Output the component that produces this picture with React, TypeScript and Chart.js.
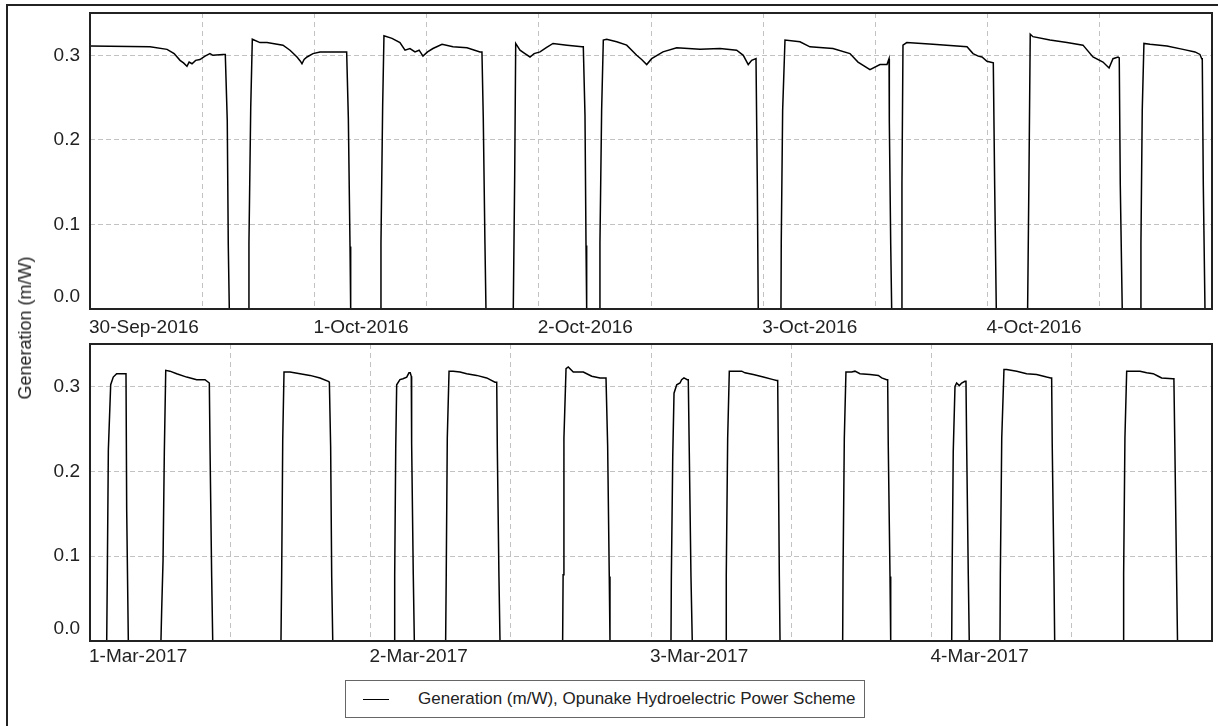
import React, { useEffect, useRef } from 'react';
import { Chart, registerables } from 'chart.js';

Chart.register(...registerables);

// ---- Text / tick labels ----
const topDayLabels = ['30-Sep-2016', '1-Oct-2016', '2-Oct-2016', '3-Oct-2016', '4-Oct-2016'];
const bottomDayLabels = ['1-Mar-2017', '2-Mar-2017', '3-Mar-2017', '4-Mar-2017'];
const yTickValues = [0, 0.1, 0.2, 0.3];
const yAxisTitle = 'Generation (m/W)';
const seriesLabel = 'Generation (m/W), Opunake Hydroelectric Power Scheme';

// ---- Series: [hours since first day 00:00, generation] ----
const topSeries: [number, number][] = [
  [0.0, 0.311], [6.42, 0.31], [8.24, 0.307], [9.0, 0.302], [9.63, 0.294], [10.0, 0.291], [10.37, 0.287], [10.6, 0.292],
  [10.91, 0.29], [11.3, 0.294], [11.76, 0.295], [12.3, 0.299], [12.83, 0.302], [13.15, 0.3], [14.22, 0.301], [14.47, 0.301],
  [14.68, 0.223], [14.79, 0.075], [14.9, 0], [16.93, 0], [17.0, 0.078], [17.19, 0.238], [17.36, 0.319],
  [18.18, 0.315], [18.93, 0.315], [20.64, 0.312], [21.39, 0.306], [22.14, 0.298], [22.5, 0.293], [22.67, 0.29],
  [22.9, 0.295], [23.21, 0.298], [23.85, 0.302], [24.6, 0.304], [27.27, 0.304], [27.45, 0.304],
  [27.63, 0.226], [27.81, 0.074], [27.88, 0], [31.02, 0], [31.12, 0.078], [31.3, 0.24], [31.44, 0.323],
  [32.3, 0.32], [33.15, 0.315], [33.69, 0.306], [34.22, 0.308], [34.76, 0.304], [35.2, 0.306], [35.61, 0.299],
  [36.1, 0.304], [36.68, 0.308], [37.65, 0.313], [38.82, 0.31], [40.32, 0.309], [41.71, 0.304], [41.92, 0.304],
  [42.06, 0.227], [42.24, 0.078], [42.35, 0], [45.27, 0], [45.42, 0.156], [45.53, 0.314], [45.99, 0.306],
  [46.52, 0.302], [47.06, 0.298], [47.5, 0.302], [48.13, 0.304], [48.8, 0.309], [49.52, 0.314], [51.02, 0.312],
  [52.62, 0.31], [52.76, 0.31], [52.94, 0.229], [53.05, 0.075], [53.12, 0], [54.47, 0], [54.54, 0.078],
  [54.72, 0.235], [54.9, 0.318], [55.26, 0.319], [56.33, 0.316], [57.4, 0.312], [58.47, 0.3], [59.0, 0.295],
  [59.54, 0.289], [60.07, 0.296], [61.28, 0.304], [62.75, 0.309], [65.24, 0.307], [67.38, 0.308], [69.16, 0.306],
  [69.87, 0.3], [70.4, 0.289], [70.77, 0.294], [71.23, 0.296], [71.37, 0.149], [71.47, 0], [73.9, 0],
  [73.93, 0.078], [74.08, 0.235], [74.33, 0.318], [75.93, 0.316], [77.0, 0.31], [79.46, 0.308], [81.28, 0.302],
  [82.14, 0.292], [83.42, 0.283], [84.49, 0.289], [85.24, 0.289], [85.46, 0.296], [85.49, 0.221], [85.64, 0.075],
  [85.74, 0], [86.74, 0], [86.84, 0.149], [86.95, 0.312], [87.35, 0.315], [90.16, 0.313], [93.8, 0.31],
  [94.44, 0.302], [95.0, 0.299], [95.4, 0.298], [95.93, 0.293], [96.61, 0.291], [96.76, 0.143], [96.93, 0],
  [100.28, 0], [100.42, 0.153], [100.56, 0.325], [100.85, 0.322], [102.67, 0.318], [104.49, 0.315], [106.2, 0.312],
  [107.27, 0.298], [108.34, 0.292], [108.99, 0.285], [109.41, 0.296], [109.95, 0.298], [110.08, 0.297],
  [110.19, 0.147], [110.4, 0], [112.37, 0], [112.4, 0.078], [112.54, 0.235], [112.72, 0.314], [113.37, 0.313],
  [115.18, 0.311], [116.9, 0.307], [118.18, 0.304], [118.71, 0.301], [118.9, 0.296], [118.96, 0.296],
  [119.07, 0.147], [119.25, 0], [120.0, 0],
];

const bottomSeries: [number, number][] = [
  [0, 0], [1.43, 0], [1.48, 0.076], [1.57, 0.225], [1.77, 0.302], [1.99, 0.311], [2.28, 0.315], [2.99, 0.315],
  [3.08, 0.315], [3.14, 0.154], [3.28, 0],
  [6.07, 0], [6.13, 0.035], [6.25, 0.095], [6.36, 0.223], [6.48, 0.319], [6.84, 0.318], [7.42, 0.315], [8.27, 0.311],
  [9.13, 0.308], [9.84, 0.308], [10.21, 0.304], [10.27, 0.227], [10.41, 0.076], [10.5, 0],
  [16.34, 0], [16.4, 0.078], [16.49, 0.237], [16.6, 0.317], [17.11, 0.317], [17.97, 0.315], [18.82, 0.313],
  [19.68, 0.31], [20.39, 0.306], [20.48, 0.305], [20.59, 0.229], [20.68, 0.076], [20.77, 0],
  [26.04, 0], [26.07, 0.076], [26.16, 0.229], [26.24, 0.302], [26.52, 0.308], [26.78, 0.309], [27.1, 0.311],
  [27.29, 0.316], [27.4, 0.316], [27.49, 0.312], [27.52, 0.233], [27.66, 0.078], [27.75, 0],
  [30.43, 0], [30.48, 0.078], [30.57, 0.239], [30.72, 0.318], [31.08, 0.318], [31.66, 0.317], [32.23, 0.315],
  [33.09, 0.313], [33.94, 0.31], [34.65, 0.305], [34.8, 0.305], [34.85, 0.227], [34.99, 0.076], [35.08, 0],
  [40.44, 0], [40.48, 0.078], [40.55, 0.239], [40.73, 0.321], [40.92, 0.323], [41.35, 0.317], [42.21, 0.317],
  [42.93, 0.312], [43.64, 0.31], [44.15, 0.31], [44.21, 0.31], [44.29, 0.231], [44.43, 0.076], [44.49, 0],
  [49.71, 0], [49.74, 0.074], [49.86, 0.217], [49.97, 0.292], [50.2, 0.302], [50.48, 0.304], [50.62, 0.308],
  [50.82, 0.31], [51.1, 0.308], [51.19, 0.308], [51.27, 0.229], [51.42, 0.076], [51.53, 0],
  [54.42, 0], [54.44, 0.078], [54.56, 0.239], [54.7, 0.318], [55.04, 0.318], [55.76, 0.318], [56.04, 0.316],
  [56.75, 0.314], [57.61, 0.311], [58.46, 0.308], [58.75, 0.307], [58.84, 0.307], [58.89, 0.229], [58.98, 0.076], [59.04, 0],
  [64.4, 0], [64.43, 0.078], [64.54, 0.239], [64.68, 0.317], [65.17, 0.317], [65.45, 0.318], [65.88, 0.315],
  [66.74, 0.314], [67.45, 0.313], [67.74, 0.31], [68.16, 0.308], [68.25, 0.308], [68.3, 0.231], [68.45, 0.076], [68.51, 0],
  [73.73, 0], [73.76, 0.074], [73.86, 0.223], [74.01, 0.3], [74.15, 0.304], [74.38, 0.301], [74.58, 0.304],
  [74.86, 0.306], [74.95, 0.306], [75.01, 0.229], [75.15, 0.076], [75.23, 0],
  [77.86, 0], [77.89, 0.078], [78.01, 0.239], [78.2, 0.32], [78.43, 0.32], [79.29, 0.318], [80.14, 0.315],
  [81.0, 0.314], [81.85, 0.311], [82.2, 0.31], [82.28, 0.31], [82.33, 0.231], [82.48, 0.076], [82.54, 0],
  [88.41, 0], [88.44, 0.078], [88.55, 0.239], [88.7, 0.318], [89.26, 0.318], [89.84, 0.318], [90.41, 0.316],
  [90.97, 0.315], [91.4, 0.312], [91.69, 0.31], [92.64, 0.309], [92.74, 0.309], [92.82, 0.231], [92.97, 0.076],
  [93.05, 0], [96, 0],
];

const FONT = 'Arial, "Liberation Sans", sans-serif';

const framePlugin = {
  id: 'frame',
  afterDraw(chart: any, _args: any, opts: any) {
    const { ctx, chartArea: a, scales } = chart;
    ctx.save();
    ctx.strokeStyle = '#222';
    ctx.lineWidth = 2;
    ctx.strokeRect(a.left, a.top, a.right - a.left, a.bottom - a.top);
    ctx.fillStyle = '#222';
    ctx.font = `19px ${FONT}`;
    ctx.textAlign = 'right';
    ctx.textBaseline = 'middle';
    for (const v of yTickValues) {
      let y = scales.y.getPixelForValue(v);
      if (v === 0) y -= 12;
      ctx.fillText(v.toFixed(1), a.left - 10, y);
    }
    ctx.textAlign = 'left';
    (opts.days as string[]).forEach((d, i) => {
      const x = scales.x.getPixelForValue(i * 24);
      ctx.fillText(d, x - 1, a.bottom + opts.gap);
    });
    ctx.restore();
  },
};

interface PanelProps {
  series: [number, number][];
  days: string[];
  hours: number;
  top: number;
  height: number;
  padTop: number;
  axisH: number;
  gap: number;
}

function Panel({ series, days, hours, top, height, padTop, axisH, gap }: PanelProps) {
  const ref = useRef<HTMLCanvasElement>(null);
  useEffect(() => {
    if (!ref.current) return;
    const chart = new Chart(ref.current, {
      type: 'line',
      data: {
        datasets: [
          {
            label: seriesLabel,
            data: series.map(([x, y]) => ({ x, y })),
            borderColor: '#000',
            borderWidth: 1.5,
            pointRadius: 0,
            tension: 0,
            fill: false,
          },
        ],
      },
      options: {
        animation: false,
        responsive: false,
        devicePixelRatio: 1,
        layout: { padding: { top: padTop, right: 6, left: 0, bottom: 0 } },
        plugins: {
          legend: { display: false },
          tooltip: { enabled: false },
          frame: { days, gap },
        } as any,
        scales: {
          x: {
            type: 'linear',
            min: 0,
            max: hours,
            ticks: { stepSize: 12, display: false },
            grid: { color: '#c2c2c2', lineWidth: 1, drawTicks: false },
            border: { display: false, dash: [5, 4] },
            afterFit: (s: any) => {
              s.height = axisH;
            },
          },
          y: {
            type: 'linear',
            min: 0,
            max: 0.35,
            ticks: { display: false },
            afterBuildTicks: (s: any) => {
              s.ticks = yTickValues.map((v) => ({ value: v }));
            },
            grid: { color: '#c2c2c2', lineWidth: 1, drawTicks: false },
            border: { display: false, dash: [5, 3] },
            afterFit: (s: any) => {
              s.width = 90;
            },
          },
        },
      },
      plugins: [framePlugin],
    } as any);
    return () => chart.destroy();
  }, []);
  return (
    <canvas
      ref={ref}
      width={1218}
      height={height}
      style={{ position: 'absolute', left: 0, top, width: 1218, height }}
    />
  );
}

export default function App() {
  return (
    <div
      style={{
        position: 'fixed',
        left: 0,
        top: 0,
        width: 1218,
        height: 726,
        background: '#fff',
        overflow: 'hidden',
        fontFamily: FONT,
      }}
    >
      <div
        style={{
          position: 'absolute',
          left: 6,
          top: 4,
          width: 1230,
          height: 740,
          border: '2px solid #222',
        }}
      />
      <Panel series={topSeries} days={topDayLabels} hours={120} top={0} height={340} padTop={13} axisH={31} gap={19} />
      <Panel series={bottomSeries} days={bottomDayLabels} hours={96} top={340} height={340} padTop={4} axisH={39} gap={16} />
      <div
        style={{
          position: 'absolute',
          left: 25,
          top: 328,
          transform: 'translate(-50%, -50%) rotate(-90deg)',
          whiteSpace: 'nowrap',
          fontSize: 18,
          color: '#222',
          lineHeight: '20px',
        }}
      >
        {yAxisTitle}
      </div>
      <div
        style={{
          position: 'absolute',
          left: 345,
          top: 680,
          width: 520,
          height: 38,
          border: '1px solid #666',
          boxSizing: 'border-box',
          background: '#fff',
        }}
      >
        <div
          style={{
            position: 'absolute',
            left: 17,
            top: 18,
            width: 26,
            height: 0,
            borderTop: '1.5px solid #000',
          }}
        />
        <div
          style={{
            position: 'absolute',
            left: 72,
            top: 0,
            height: 36,
            lineHeight: '36px',
            fontSize: 17,
            color: '#222',
            whiteSpace: 'nowrap',
          }}
        >
          {seriesLabel}
        </div>
      </div>
    </div>
  );
}
